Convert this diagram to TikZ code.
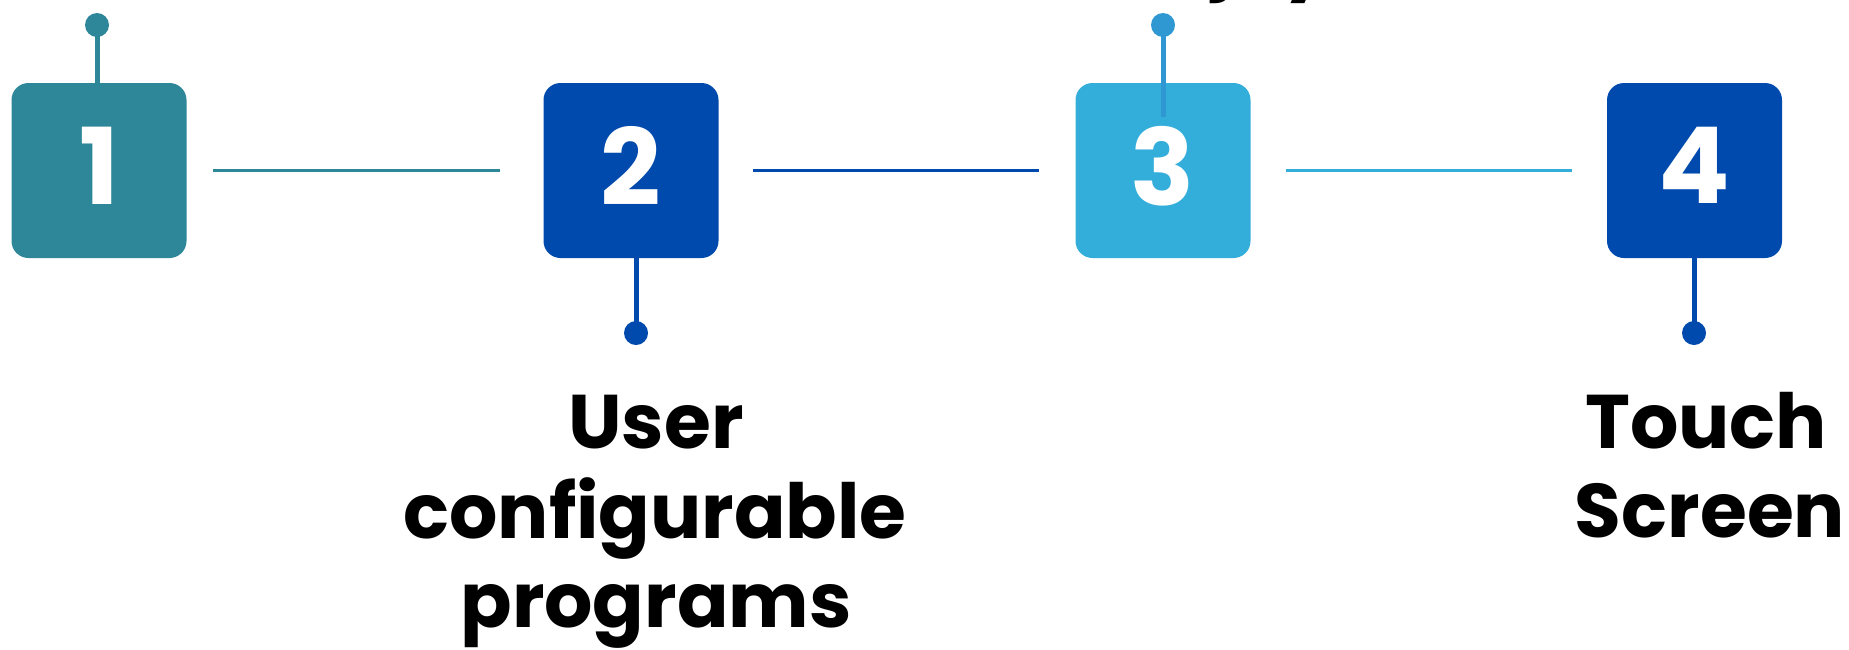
\documentclass[tikz,border=0pt]{standalone}
\usepackage{fontspec}
\setmainfont{Poppins}
\definecolor{teal1}{HTML}{2E8799}
\definecolor{navy1}{HTML}{004AAD}
\definecolor{sky1}{HTML}{33AEDB}
\definecolor{sky2}{HTML}{2F98D2}
\begin{document}
\begin{tikzpicture}[x=1pt,y=-1pt,
  stepbox/.style={rounded corners=17pt, minimum width=175pt, minimum height=175pt, inner sep=0pt, text=white, text depth=10pt, font=\fontsize{106}{106}\selectfont\bfseries},
  link/.style={line width=3.5pt},
  stem/.style={line width=5pt},
  pin/.style={circle, inner sep=0pt, minimum size=24pt},
  lbl/.style={anchor=base, inner sep=0pt, font=\fontsize{76}{89}\selectfont\bfseries}]
\useasboundingbox (0,0) rectangle (1849,649);
\fill[white] (0,0) rectangle (1849,649);
% boxes
\node[stepbox, fill=teal1] (b1) at (99,170.5) {1};
\node[stepbox, fill=navy1] (b2) at (631,170.5) {2};
\node[stepbox, fill=sky1]  (b3) at (1163,170.5) {3};
\node[stepbox, fill=navy1] (b4) at (1694.5,170.5) {4};
% links
\draw[link, teal1] ([xshift=26.5pt]b1.east) -- ([xshift=-43.5pt]b2.west);
\draw[link, navy1] ([xshift=34pt]b2.east) -- ([xshift=-36pt]b3.west);
\draw[link, sky1]  ([xshift=35pt]b3.east) -- ([xshift=-35pt]b4.west);
% pins
\node[pin, fill=teal1] (p1) at (97,25) {};
\draw[stem, teal1] (p1.center) -- (p1.center |- b1.north);
\node[pin, fill=sky2] (p3) at (1163,25) {};
\coordinate (c3) at (1163,117);
\draw[stem, sky2] (p3.center) -- (c3);
\node[pin, fill=navy1] (p2) at (636,333) {};
\draw[stem, navy1] (p2.center) -- (p2.center |- b2.south);
\node[pin, fill=navy1] (p4) at (1694,333) {};
\draw[stem, navy1] (p4.center) -- (p4.center |- b4.south);
% labels
\node[lbl] (l2a) at (656,448) {User};
\node[lbl] (l2b) at (655,538) {configurable};
\node[lbl] (l2c) at (656,627) {programs};
\node[lbl] (l4a) at (1706,448) {Touch};
\node[lbl] (l4b) at (1710,537) {Screen};
\begin{scope}
\clip (0,0) rectangle (1849,649);
\node[lbl, anchor=base west] (l3) at (1120,-17) {Enjoy};
\end{scope}
\end{tikzpicture}
\end{document}
